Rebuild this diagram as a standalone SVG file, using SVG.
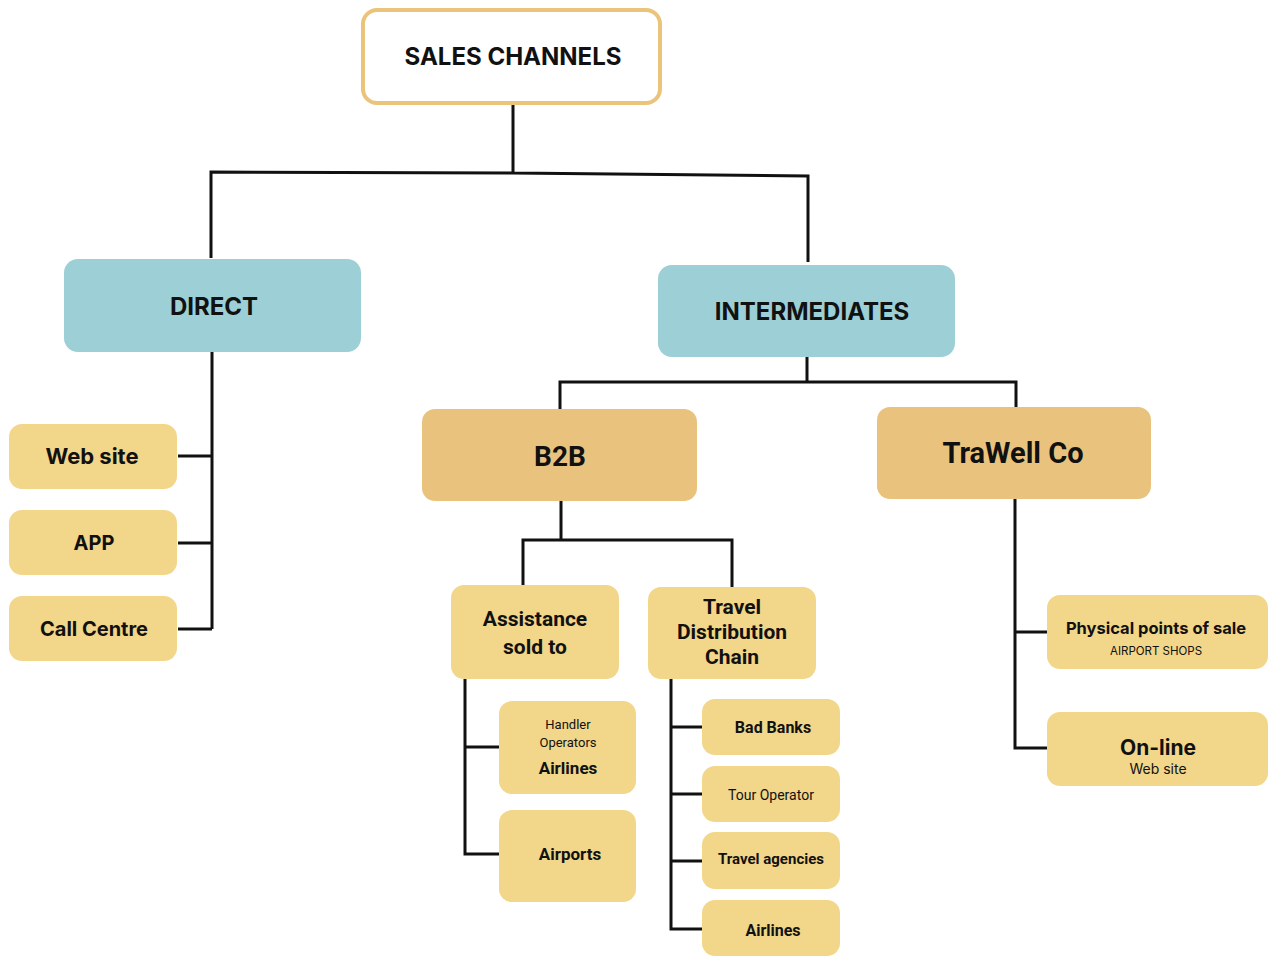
<svg xmlns="http://www.w3.org/2000/svg" width="1268" height="956" viewBox="0 0 1268 956">
  <style>
    .wire { fill: none; stroke: #111; stroke-width: 3; stroke-linejoin: miter; }
    .root { fill: #fff; stroke: #EBC47C; stroke-width: 4; }
    .teal { fill: #9DCFD6; }
    .amber { fill: #E9C37D; }
    .sand { fill: #F2D68A; }
    text { font-family: "Inter", "Open Sans", "Liberation Sans", sans-serif; fill: #111; text-anchor: middle; dominant-baseline: central; }
    .sb { font-weight: 700; }
    .rb { font-family: "Roboto", "Liberation Sans", sans-serif; font-weight: 700; }
    .rr { font-family: "Roboto", "Liberation Sans", sans-serif; font-weight: 400; }
  </style>
  <rect width="1268" height="956" fill="#fff"/>

  <g id="connectors">
    <path class="wire" d="M513 103 V173 M211 258 V172 L513 173 L808 176 V262"/>
    <path class="wire" d="M212 352 V629 M178 456 H212 M178 543 H212 M178 629 H212"/>
    <path class="wire" d="M807 357 V382 M560 409 V382 H1016 V407"/>
    <path class="wire" d="M561 501 V540 M523 585 V540 H732 V588"/>
    <path class="wire" d="M465 679 V854 H499 M465 747 H499"/>
    <path class="wire" d="M671 679 V929 H703 M671 727 H703 M671 794 H703 M671 861 H703"/>
    <path class="wire" d="M1015 499 V748 H1048 M1015 632 H1048"/>
  </g>

  <g id="sales-channels">
    <rect class="root" x="363" y="10" width="297" height="93" rx="14"/>
    <text class="sb" x="513" y="56" font-size="24">SALES CHANNELS</text>
  </g>

  <g id="direct">
    <rect class="teal" x="64" y="259" width="297" height="93" rx="14"/>
    <text class="sb" x="214" y="306" font-size="24">DIRECT</text>
  </g>
  <g id="intermediates">
    <rect class="teal" x="658" y="265" width="297" height="92" rx="14"/>
    <text class="sb" x="812" y="311" font-size="24">INTERMEDIATES</text>
  </g>

  <g id="web-site">
    <rect class="sand" x="9" y="424" width="168" height="65" rx="13"/>
    <text class="sb" x="92" y="456" font-size="22">Web site</text>
  </g>
  <g id="app">
    <rect class="sand" x="9" y="510" width="168" height="65" rx="13"/>
    <text class="sb" x="94" y="543" font-size="20">APP</text>
  </g>
  <g id="call-centre">
    <rect class="sand" x="9" y="596" width="168" height="65" rx="13"/>
    <text class="sb" x="94" y="629" font-size="20">Call Centre</text>
  </g>

  <g id="b2b">
    <rect class="amber" x="422" y="409" width="275" height="92" rx="13"/>
    <text class="rb" x="560" y="456" font-size="28">B2B</text>
  </g>
  <g id="trawell">
    <rect class="amber" x="877" y="407" width="274" height="92" rx="13"/>
    <text class="rb" x="1013" y="453" font-size="29">TraWell Co</text>
  </g>

  <g id="assistance">
    <rect class="sand" x="451" y="585" width="168" height="94" rx="13"/>
    <text class="rb" x="535" y="619" font-size="21">Assistance</text>
    <text class="rb" x="535" y="647" font-size="21">sold to</text>
  </g>
  <g id="distribution-chain">
    <rect class="sand" x="648" y="587" width="168" height="92" rx="13"/>
    <text class="rb" x="732" y="607" font-size="21">Travel</text>
    <text class="rb" x="732" y="632" font-size="21">Distribution</text>
    <text class="rb" x="732" y="657" font-size="21">Chain</text>
  </g>

  <g id="handler-airlines">
    <rect class="sand" x="499" y="701" width="137" height="93" rx="13"/>
    <text class="rr" x="568" y="724" font-size="13">Handler</text>
    <text class="rr" x="568" y="742" font-size="13">Operators</text>
    <text class="rb" x="568" y="768" font-size="17">Airlines</text>
  </g>
  <g id="airports">
    <rect class="sand" x="499" y="810" width="137" height="92" rx="13"/>
    <text class="rb" x="570" y="854" font-size="17">Airports</text>
  </g>

  <g id="bad-banks">
    <rect class="sand" x="702" y="699" width="138" height="56" rx="13"/>
    <text class="rb" x="773" y="727" font-size="16">Bad Banks</text>
  </g>
  <g id="tour-operator">
    <rect class="sand" x="702" y="766" width="138" height="56" rx="13"/>
    <text class="rr" x="771" y="795" font-size="14">Tour Operator</text>
  </g>
  <g id="travel-agencies">
    <rect class="sand" x="702" y="832" width="138" height="57" rx="13"/>
    <text class="rb" x="771" y="859" font-size="15">Travel agencies</text>
  </g>
  <g id="airlines">
    <rect class="sand" x="702" y="900" width="138" height="56" rx="13"/>
    <text class="rb" x="773" y="930" font-size="16">Airlines</text>
  </g>

  <g id="physical-points">
    <rect class="sand" x="1047" y="595" width="221" height="74" rx="13"/>
    <text class="sb" x="1156" y="628" font-size="16.5">Physical points of sale</text>
    <text x="1156" y="651" font-size="11.5" font-weight="400">AIRPORT SHOPS</text>
  </g>
  <g id="on-line">
    <rect class="sand" x="1047" y="712" width="221" height="74" rx="13"/>
    <text class="sb" x="1158" y="747" font-size="21">On-line</text>
    <text x="1158" y="768" font-size="14" font-weight="400">Web site</text>
  </g>
</svg>
